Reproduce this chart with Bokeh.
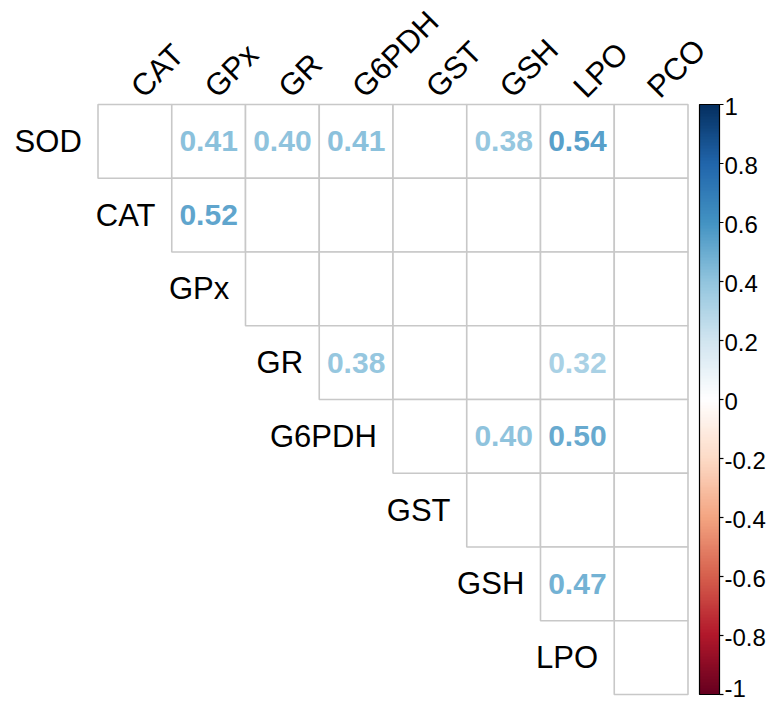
import numpy as np
from bokeh.plotting import figure
from bokeh.models import Range1d, LinearColorMapper, ColumnDataSource
from bokeh.transform import linear_cmap
from bokeh.core.properties import value
from bokeh.embed import file_html
from bokeh.resources import INLINE

# Variables of the correlation matrix (upper triangle, diagonal dropped)
row_labels = ["SOD", "CAT", "GPx", "GR", "G6PDH", "GST", "GSH", "LPO"]
col_labels = ["CAT", "GPx", "GR", "G6PDH", "GST", "GSH", "LPO", "PCO"]

# Significant coefficients (all others are left blank)
sig_rows = ["SOD", "SOD", "SOD", "SOD", "SOD", "CAT", "GR", "GR", "G6PDH", "G6PDH", "GSH"]
sig_cols = ["GPx", "GR", "G6PDH", "GSH", "LPO", "GPx", "G6PDH", "LPO", "GSH", "LPO", "LPO"]
sig_vals = [0.41, 0.40, 0.41, 0.38, 0.54, 0.52, 0.38, 0.32, 0.40, 0.50, 0.47]

# Colour bar ticks
cb_ticks = [1.0, 0.8, 0.6, 0.4, 0.2, 0.0, -0.2, -0.4, -0.6, -0.8, -1.0]
cb_tick_labels = ["1", "0.8", "0.6", "0.4", "0.2", "0", "-0.2", "-0.4", "-0.6", "-0.8", "-1"]

# Diverging red-blue scheme, interpolated to 200 steps
anchor_colors = ["#67001F", "#B2182B", "#D6604D", "#F4A582", "#FDDBC7", "#FFFFFF",
                 "#D1E5F0", "#92C5DE", "#4393C3", "#2166AC", "#053061"]


def ramp(colors, n):
    rgb = np.array([[int(c[k:k + 2], 16) for k in (1, 3, 5)] for c in colors], dtype=float)
    pos = np.linspace(0, 1, len(colors))
    t = np.linspace(0, 1, n)
    out = np.column_stack([np.interp(t, pos, rgb[:, k]) for k in range(3)])
    return ["#%02x%02x%02x" % tuple(int(round(v)) for v in row) for row in out]


palette = ramp(anchor_colors, 200)

# Page geometry (pixels)
W, H = 767, 704
cell = 73.75
grid_left, grid_top = 97.5, 104.0
n = len(col_labels)

x_range = Range1d(-grid_left / cell, (W - grid_left) / cell)
y_range = Range1d((H - grid_top) / cell, -grid_top / cell)  # rows run downwards

p = figure(width=W, height=H, x_range=x_range, y_range=y_range,
           output_backend="svg", toolbar_location=None, min_border=0)
p.axis.visible = False
p.grid.visible = False
p.outline_line_color = None
p.background_fill_color = "white"
p.border_fill_color = "white"

# Colour bar shares the grid's vertical extent: +1 at the top, -1 at the bottom
span = n * cell
px_per_unit = span / 2.0
p.extra_y_ranges = {"cb": Range1d(1 - (H - grid_top) / px_per_unit, 1 + grid_top / px_per_unit)}

# Grid cells of the upper triangle
cx, cy = [], []
for i in range(len(row_labels)):
    for j in range(i, n):
        cx.append(j + 0.5)
        cy.append(i + 0.5)
p.rect(x=cx, y=cy, width=1, height=1, fill_color="white",
       line_color="#c8c8c8", line_width=1.6)

# Coefficient labels coloured by value
src = ColumnDataSource(dict(
    x=[col_labels.index(c) + 0.5 for c in sig_cols],
    y=[row_labels.index(r) + 0.5 for r in sig_rows],
    r=sig_vals,
    txt=["%.2f" % v for v in sig_vals],
))
p.text(x="x", y="y", text="txt", source=src,
       text_color=linear_cmap("r", palette, -1, 1),
       text_font=value("Liberation Sans"), text_font_style="bold",
       text_font_size="30px", text_align="center", text_baseline="middle")

# Row labels, right-aligned just left of each row's first cell
p.text(x=[i - 0.22 for i in range(len(row_labels))],
       y=[i + 0.5 for i in range(len(row_labels))],
       text=row_labels, text_color="black",
       text_font=value("Liberation Sans"), text_font_size="31px",
       text_align="right", text_baseline="middle")

# Column labels, rotated 45 degrees above the grid
p.text(x=[j + 0.5 + 0.02 for j in range(n)],
       y=[-0.17] * n,
       text=col_labels, angle=np.pi / 4, text_color="black",
       text_font=value("Liberation Sans"), text_font_size="31px",
       text_align="left", text_baseline="middle")

# Colour bar
cb_left = n + (699 - grid_left - span) / cell
cb_w = 20 / cell
mapper = LinearColorMapper(palette=palette, low=-1, high=1)
p.image(image=[np.linspace(-1, 1, 400).reshape(400, 1)], x=cb_left, y=-1,
        dw=cb_w, dh=2, color_mapper=mapper, y_range_name="cb")
p.quad(left=[cb_left], right=[cb_left + cb_w], bottom=[-1], top=[1],
       fill_color=None, line_color="black", line_width=1.2, y_range_name="cb")
p.segment(x0=[cb_left + cb_w] * len(cb_ticks), x1=[cb_left + cb_w + 4 / cell] * len(cb_ticks),
          y0=cb_ticks, y1=cb_ticks, line_color="black", line_width=1.2, y_range_name="cb")

# Tick labels sit a touch below their ticks; the lowest one is kept inside the page
lowest = 1 - (H - grid_top - 16) / px_per_unit
label_y = [max(t - 2 / px_per_unit, lowest) for t in cb_ticks]
p.text(x=[cb_left + cb_w + 5 / cell] * len(cb_ticks), y=label_y, text=cb_tick_labels,
       text_color="black", text_font=value("Liberation Sans"), text_font_size="24px",
       text_align="left", text_baseline="middle", y_range_name="cb")

open("out.html", "w").write(file_html(p, INLINE))
